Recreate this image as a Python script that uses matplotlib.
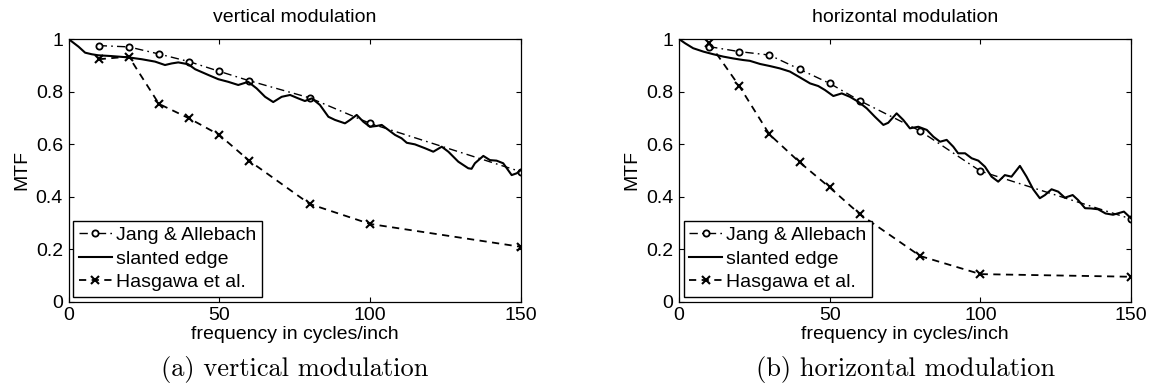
"""
MTF comparison: Jang & Allebach / slanted edge / Hasgawa et al.
two panels, vertical and horizontal modulation
"""

import matplotlib
matplotlib.use('Agg')
import matplotlib.pyplot as plt

# --- data ---------------------------------------------------------------
freq_pts = [10, 20, 30, 40, 50, 60, 80, 100, 150]

# vertical modulation
jang_v = [0.975, 0.970, 0.943, 0.914, 0.877, 0.841, 0.776, 0.679, 0.495]
hasg_v = [0.923, 0.933, 0.753, 0.698, 0.635, 0.536, 0.372, 0.296, 0.209]
edge_v_x = [0, 3.3, 5.5, 7.7, 9.9, 14.3, 19.9, 24.3, 28.7, 32.0, 34.2, 36.4,
            39.7, 42.0, 46.4, 49.7, 53.0, 56.3, 59.6, 62.4, 65.2, 67.9, 70.7,
            73.5, 76.2, 78.4, 80.7, 83.4, 86.2, 88.4, 91.7, 93.4, 95.6, 97.8,
            100.0, 102.2, 103.9, 106.1, 108.3, 110.5, 112.2, 114.9, 118.3,
            121.0, 123.8, 126.0, 129.3, 132.6, 133.7, 134.8, 137.6, 139.8,
            142.0, 144.2, 147.0, 148.7, 150.0]
edge_v_y = [1.0, 0.971, 0.948, 0.942, 0.938, 0.935, 0.930, 0.923, 0.914,
            0.901, 0.907, 0.911, 0.904, 0.885, 0.863, 0.847, 0.837, 0.825,
            0.837, 0.812, 0.780, 0.760, 0.780, 0.787, 0.774, 0.764, 0.774,
            0.749, 0.704, 0.692, 0.679, 0.692, 0.711, 0.685, 0.666, 0.669,
            0.673, 0.654, 0.635, 0.622, 0.605, 0.599, 0.584, 0.571, 0.590,
            0.571, 0.533, 0.508, 0.506, 0.527, 0.555, 0.539, 0.537, 0.527,
            0.482, 0.489, 0.501]

# horizontal modulation
jang_h = [0.971, 0.952, 0.939, 0.885, 0.831, 0.765, 0.650, 0.497, 0.315]
hasg_h = [0.984, 0.821, 0.637, 0.531, 0.435, 0.333, 0.174, 0.105, 0.095]
edge_h_x = [0, 2.0, 4.7, 8.1, 11.4, 14.7, 18.0, 21.3, 23.5, 26.9, 30.2, 33.5,
            36.8, 40.1, 43.5, 46.2, 48.4, 51.2, 54.0, 56.7, 59.5, 62.3, 65.0,
            67.8, 69.4, 72.2, 74.4, 76.6, 79.4, 82.2, 84.4, 86.6, 88.8, 91.0,
            92.6, 94.9, 97.1, 99.3, 101.5, 103.7, 105.9, 108.1, 110.3, 113.1,
            115.3, 117.5, 119.7, 121.4, 123.6, 125.8, 128.0, 130.6, 132.4,
            134.7, 136.7, 139.0, 141.5, 144.0, 147.6, 150.0]
edge_h_y = [1.0, 0.984, 0.965, 0.952, 0.942, 0.933, 0.926, 0.920, 0.917,
            0.905, 0.897, 0.888, 0.876, 0.854, 0.831, 0.821, 0.806, 0.783,
            0.793, 0.780, 0.761, 0.736, 0.704, 0.673, 0.681, 0.717, 0.692,
            0.660, 0.666, 0.654, 0.628, 0.609, 0.616, 0.590, 0.565, 0.565,
            0.546, 0.537, 0.514, 0.476, 0.457, 0.482, 0.476, 0.517, 0.476,
            0.428, 0.394, 0.406, 0.428, 0.419, 0.396, 0.406, 0.387, 0.356,
            0.355, 0.352, 0.336, 0.331, 0.343, 0.317]

x_ticks = [0, 50, 100, 150]
y_ticks = [0, 0.2, 0.4, 0.6, 0.8, 1.0]
y_tick_labels = ['0', '0.2', '0.4', '0.6', '0.8', '1']
labels = ['Jang & Allebach', 'slanted edge', 'Hasgawa et al.']

SANS = ['Liberation Sans', 'DejaVu Sans']
FS = 14


def draw_panel(ax, jang, edge_x, edge_y, hasg, title):
    ax.plot(freq_pts, jang, color='black', linestyle='-.', linewidth=1.0,
            marker='o', markersize=4.5, markerfacecolor='white',
            markeredgewidth=1.3, label=labels[0], dashes=(6, 3, 1.2, 3))
    ax.plot(edge_x, edge_y, color='black', linestyle='-', linewidth=1.5,
            label=labels[1])
    ax.plot(freq_pts, hasg, color='black', linestyle='--', linewidth=1.3,
            marker='x', markersize=5.5, markeredgewidth=1.5,
            label=labels[2], dashes=(4, 3))

    ax.set_xlim(0, 150)
    ax.set_ylim(0, 1)
    ax.set_xticks(x_ticks)
    ax.set_xticklabels([str(t) for t in x_ticks], family=SANS, fontsize=FS)
    ax.set_yticks(y_ticks)
    ax.set_yticklabels(y_tick_labels, family=SANS, fontsize=FS)
    ax.tick_params(direction='in', top=True, right=True, length=3.5,
                   width=0.8, pad=4)
    for sp in ax.spines.values():
        sp.set_linewidth(0.9)

    ax.set_title(title, family=SANS, fontsize=FS, pad=12)
    ax.set_xlabel('frequency in cycles/inch', family=SANS, fontsize=FS,
                  labelpad=1)
    ax.set_ylabel('MTF', family=SANS, fontsize=FS, labelpad=4)

    leg = ax.legend(loc='lower left', bbox_to_anchor=(0.01, 0.018),
                    borderaxespad=0, prop={'family': SANS, 'size': FS},
                    fancybox=False, framealpha=1, edgecolor='black',
                    borderpad=0.3, labelspacing=0.3, handlelength=1.7,
                    handletextpad=0.2)
    leg.get_frame().set_linewidth(1.0)


fig = plt.figure(figsize=(11.52, 3.89), dpi=100)

ax1 = fig.add_axes([0.0595, 0.2244, 0.3925, 0.6753])
draw_panel(ax1, jang_v, edge_v_x, edge_v_y, hasg_v, 'vertical modulation')

ax2 = fig.add_axes([0.5894, 0.2244, 0.3925, 0.6753])
draw_panel(ax2, jang_h, edge_h_x, edge_h_y, hasg_h, 'horizontal modulation')

fig.text(0.2557, 0.049, '(a) vertical modulation', family=['cmr10', 'DejaVu Serif'],
         fontsize=19, ha='center', va='center')
fig.text(0.7857, 0.049, '(b) horizontal modulation', family=['cmr10', 'DejaVu Serif'],
         fontsize=19, ha='center', va='center')

fig.savefig('out.png', dpi=100)
